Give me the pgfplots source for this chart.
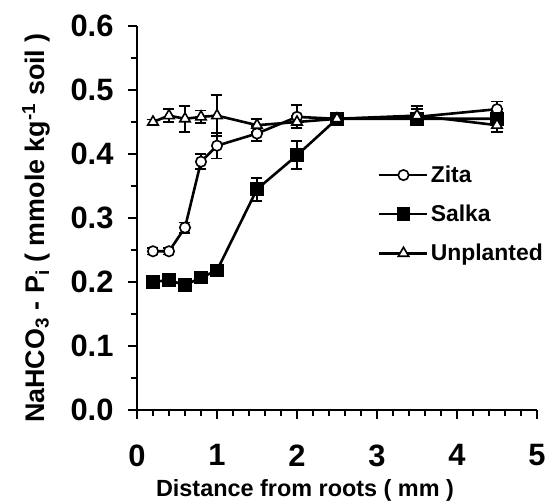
\documentclass[border=0pt]{standalone}
\usepackage{fontspec}
\setmainfont{Liberation Sans}
\usepackage{pgfplots}
\usepackage{pgfplotstable}
\pgfplotsset{compat=1.18}

\pgfplotstableread{
x y e
0.2 0.248 0.005
0.4 0.248 0.005
0.6 0.285 0.008
0.8 0.388 0.012
1.0 0.413 0.020
1.5 0.432 0.012
2.0 0.458 0.018
2.5 0.455 0.008
3.5 0.458 0.012
4.5 0.470 0.012
}\zita
\pgfplotstableread{
x y e
0.2 0.200 0.004
0.4 0.203 0.004
0.6 0.195 0.006
0.8 0.207 0.005
1.0 0.218 0.006
1.5 0.345 0.018
2.0 0.398 0.022
2.5 0.455 0.008
3.5 0.455 0.008
4.5 0.455 0.010
}\salka
\pgfplotstableread{
x y e
0.2 0.450 0.004
0.4 0.460 0.010
0.6 0.455 0.020
0.8 0.458 0.010
1.0 0.460 0.032
1.5 0.445 0.010
2.0 0.450 0.010
2.5 0.455 0.008
3.5 0.460 0.015
4.5 0.445 0.010
}\unplanted

\begin{document}
\begin{tikzpicture}
\begin{axis}[
  scale only axis, width=400bp, height=384bp,
  xmin=0, xmax=5, ymin=0, ymax=0.6,
  axis x line*=bottom, axis y line*=left,
  axis line style={line width=2.6bp},
  xtick={0,1,...,5}, minor x tick num=4,
  ytick={0,0.1,...,0.6}, minor y tick num=1,
  yticklabel style={/pgf/number format/fixed, /pgf/number format/fixed zerofill, /pgf/number format/precision=1},
  /pgf/number format/assume math mode=true,
  tick align=outside,
  major tick length=9bp, minor tick length=6bp,
  tick style={black, line width=2.2bp},
  ticklabel style={font=\fontsize{31}{32}\selectfont\bfseries},
  xticklabel style={yshift=-22bp},
  yticklabel style={xshift=-11bp},
  xlabel={Distance from roots ( mm )},
  ylabel={NaHCO\textsubscript{3} - P\textsubscript{i} ( mmole kg\textsuperscript{-1} soil )},
  xlabel style={font=\fontsize{23.5}{25}\selectfont\bfseries, at={(axis description cs:0.42,-0.21)}, anchor=center},
  ylabel style={font=\fontsize{27}{28}\selectfont\bfseries, at={(axis description cs:-0.2525,0.474)}, anchor=center},
  legend style={draw=none, fill=none, at={(0.6025,0.51)}, anchor=west, inner sep=0pt,
    font=\fontsize{23}{24}\selectfont\bfseries, row sep=17bp,
    /tikz/every even column/.append style={column sep=4bp}},
  legend cell align=left,
  legend image code/.code={\draw[mark repeat=2, mark phase=2] plot coordinates {(0bp,0bp) (24bp,0bp) (48bp,0bp)};},
  clip=false,
  every axis plot/.append style={line width=2.6bp, black},
  error bars/error bar style={line width=1.8bp, black},
  error bars/error mark options={rotate=90, mark size=5.5bp, line width=1.8bp, black},
]
\addplot[mark=*, mark size=5.2bp, mark options={fill=white, line width=1.6bp},
  error bars/.cd, y dir=both, y explicit] table[x=x, y=y, y error=e] {\zita};
\addlegendentry{Zita}
\addplot[mark=square*, mark size=5.5bp, mark options={fill=black},
  error bars/.cd, y dir=both, y explicit] table[x=x, y=y, y error=e] {\salka};
\addlegendentry{Salka}
\addplot[mark=triangle*, mark size=6bp, mark options={fill=white, line width=1.6bp},
  error bars/.cd, y dir=both, y explicit] table[x=x, y=y, y error=e] {\unplanted};
\addlegendentry{Unplanted}
\end{axis}
\pgfresetboundingbox
\path ([shift={(-137bp,-93bp)}]current axis.south west) rectangle ++(556bp,503bp);
\end{tikzpicture}
\end{document}
